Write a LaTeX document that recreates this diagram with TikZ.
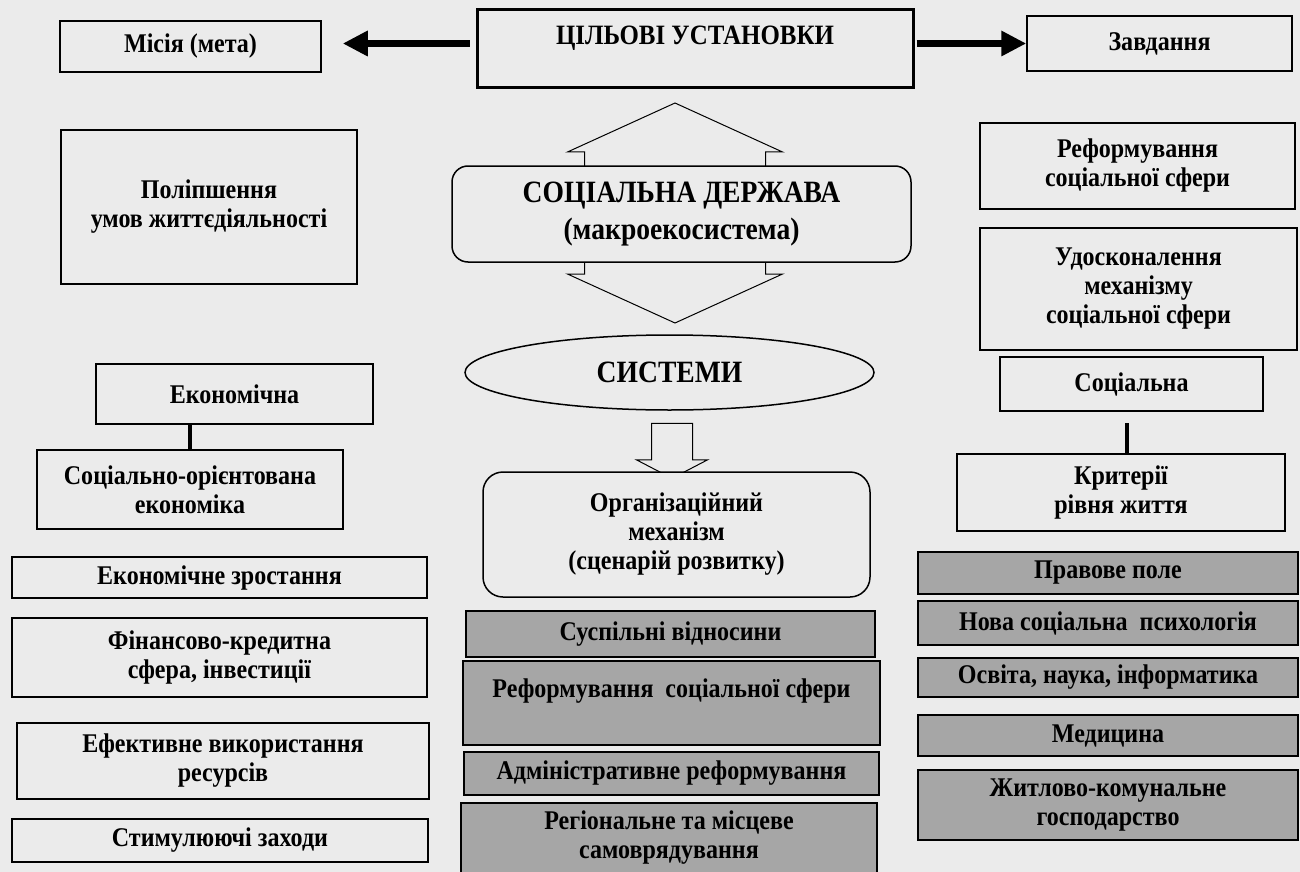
\documentclass[tikz,border=0pt]{standalone}
\usepackage{fontspec}
\setmainfont{Liberation Serif}[FakeStretch=0.89]
\usetikzlibrary{arrows.meta,shapes.geometric,shapes.arrows}

\definecolor{paper}{gray}{0.92}
\definecolor{shadegrey}{gray}{0.65}

\begin{document}
\begin{tikzpicture}[x=1pt,y=-1pt,
    txt/.style={font=\fontsize{27}{29}\selectfont\bfseries, align=center, inner sep=0pt},
    bigtxt/.style={font=\fontsize{31}{37}\selectfont\bfseries},
    plainbox/.style={txt, draw, line width=1.5pt},
    greybox/.style={plainbox, fill=shadegrey},
    roundbox/.style={plainbox, fill=paper, rounded corners=16pt},
    thickarrow/.style={line width=7pt, -{Triangle[length=25pt,width=24pt]}},
    stem/.style={line width=4pt},
    blockarrow/.style={draw, line width=1pt, fill=paper, inner xsep=0pt}]

        \fill[paper] (0,0) rectangle (1300,872);
        \useasboundingbox (0,0) rectangle (1300,872);

        % top row
        \node[plainbox, line width=3pt, minimum width=436pt, minimum height=78pt,
              font=\fontsize{28}{28}\selectfont\bfseries] (goals) at (695,49) {ЦІЛЬОВІ УСТАНОВКИ\\\mbox{}};
        \node[plainbox, minimum width=261pt, minimum height=51pt] (mission) at (190.5,46.5) {Місія (мета)};
        \node[plainbox, minimum width=265pt, minimum height=55pt] (tasks) at (1159.5,43.5) {Завдання};

        \draw[thickarrow, shorten <=6pt, shorten >=21pt] (goals.west |- tasks.west) -- (mission.east |- tasks.west);
        \draw[thickarrow, shorten <=2pt] (goals.east |- tasks.west) -- (tasks.west);

        % centre
        \node[blockarrow, double arrow, inner ysep=90pt, double arrow head extend=17pt,
              double arrow tip angle=131, minimum height=220pt, rotate=90] (updown) at (675,213) {};
        \node[roundbox, bigtxt, minimum width=459pt, minimum height=96pt] (state) at (681.5,214)
            {СОЦІАЛЬНА ДЕРЖАВА\\(макроекосистема)};
        \node[txt, bigtxt, ellipse, draw, line width=1.5pt, minimum width=409pt, minimum height=75pt] (systems)
            at (669.5,372.5) {СИСТЕМИ};
        \node[blockarrow, single arrow, inner ysep=20pt, single arrow head extend=15pt,
              single arrow tip angle=125, minimum height=55pt, rotate=-90] (down) at (672,445.5) {};
        \node[roundbox, rounded corners=20pt, minimum width=387pt, minimum height=125pt] (mechanism)
            at (676.5,534.5) {Організаційний\\механізм\\(сценарій розвитку)};

        \node[greybox, minimum width=409pt, minimum height=46pt] (relations) at (670.5,634) {Суспільні відносини};
        \node[greybox, minimum width=417pt, minimum height=84pt] (reform) at (671.5,703)
            {Реформування\ \ соціальної сфери\\\mbox{}};
        \node[greybox, minimum width=415pt, minimum height=43pt] (admin) at (671.5,773.5) {Адміністративне реформування};
        \node[greybox, minimum width=416pt, minimum height=70pt] (selfgov) at (669,838)
            {Регіональне та місцеве\\самоврядування};

        % left column
        \node[plainbox, minimum width=296pt, minimum height=154pt] (living) at (209,207) {Поліпшення\\умов життєдіяльності};
        \node[plainbox, minimum width=277pt, minimum height=60pt] (econ) at (234.5,394) {Економічна};
        \node[plainbox, minimum width=306pt, minimum height=79pt] (soceco) at (190,489.5) {Соціально-орієнтована\\економіка};
        \draw[stem] (soceco.north) -- (soceco.north |- econ.south);

        \node[plainbox, minimum width=415pt, minimum height=41pt] (growth) at (219.5,577.5) {Економічне зростання};
        \node[plainbox, minimum width=415pt, minimum height=79pt] (finance) at (219.5,657.5) {Фінансово-кредитна\\сфера, інвестиції};
        \node[plainbox, minimum width=412pt, minimum height=76pt] (resources) at (223,761) {Ефективне використання\\ресурсів};
        \node[plainbox, minimum width=416pt, minimum height=43pt] (stimulus) at (220,840.5) {Стимулюючі заходи};

        % right column
        \node[plainbox, minimum width=315pt, minimum height=86pt] (reformsoc) at (1137.5,166) {Реформування\\соціальної сфери};
        \node[plainbox, minimum width=317pt, minimum height=122pt] (improve) at (1138.5,289) {Удосконалення\\механізму\\соціальної сфери};
        \node[plainbox, minimum width=263pt, minimum height=54pt] (social) at (1131.5,384) {Соціальна};
        \node[plainbox, minimum width=328pt, minimum height=77pt] (criteria) at (1121,492.5) {Критерії\\рівня життя};
        \draw[stem, shorten >=11pt] ([xshift=6pt]criteria.north) -- ([xshift=6pt]criteria.north |- social.south);

        \node[greybox, minimum width=380pt, minimum height=42pt] (law) at (1108,573) {Правове поле};
        \node[greybox, minimum width=380pt, minimum height=44pt] (psych) at (1108,623) {Нова соціальна\ \ психологія};
        \node[greybox, minimum width=380pt, minimum height=39pt] (education) at (1108,677.5) {Освіта, наука, інформатика};
        \node[greybox, minimum width=380pt, minimum height=41pt] (medicine) at (1108,735.5) {Медицина};
        \node[greybox, minimum width=380pt, minimum height=70pt] (housing) at (1108,805) {Житлово-комунальне\\господарство};

    \end{tikzpicture}
\end{document}
